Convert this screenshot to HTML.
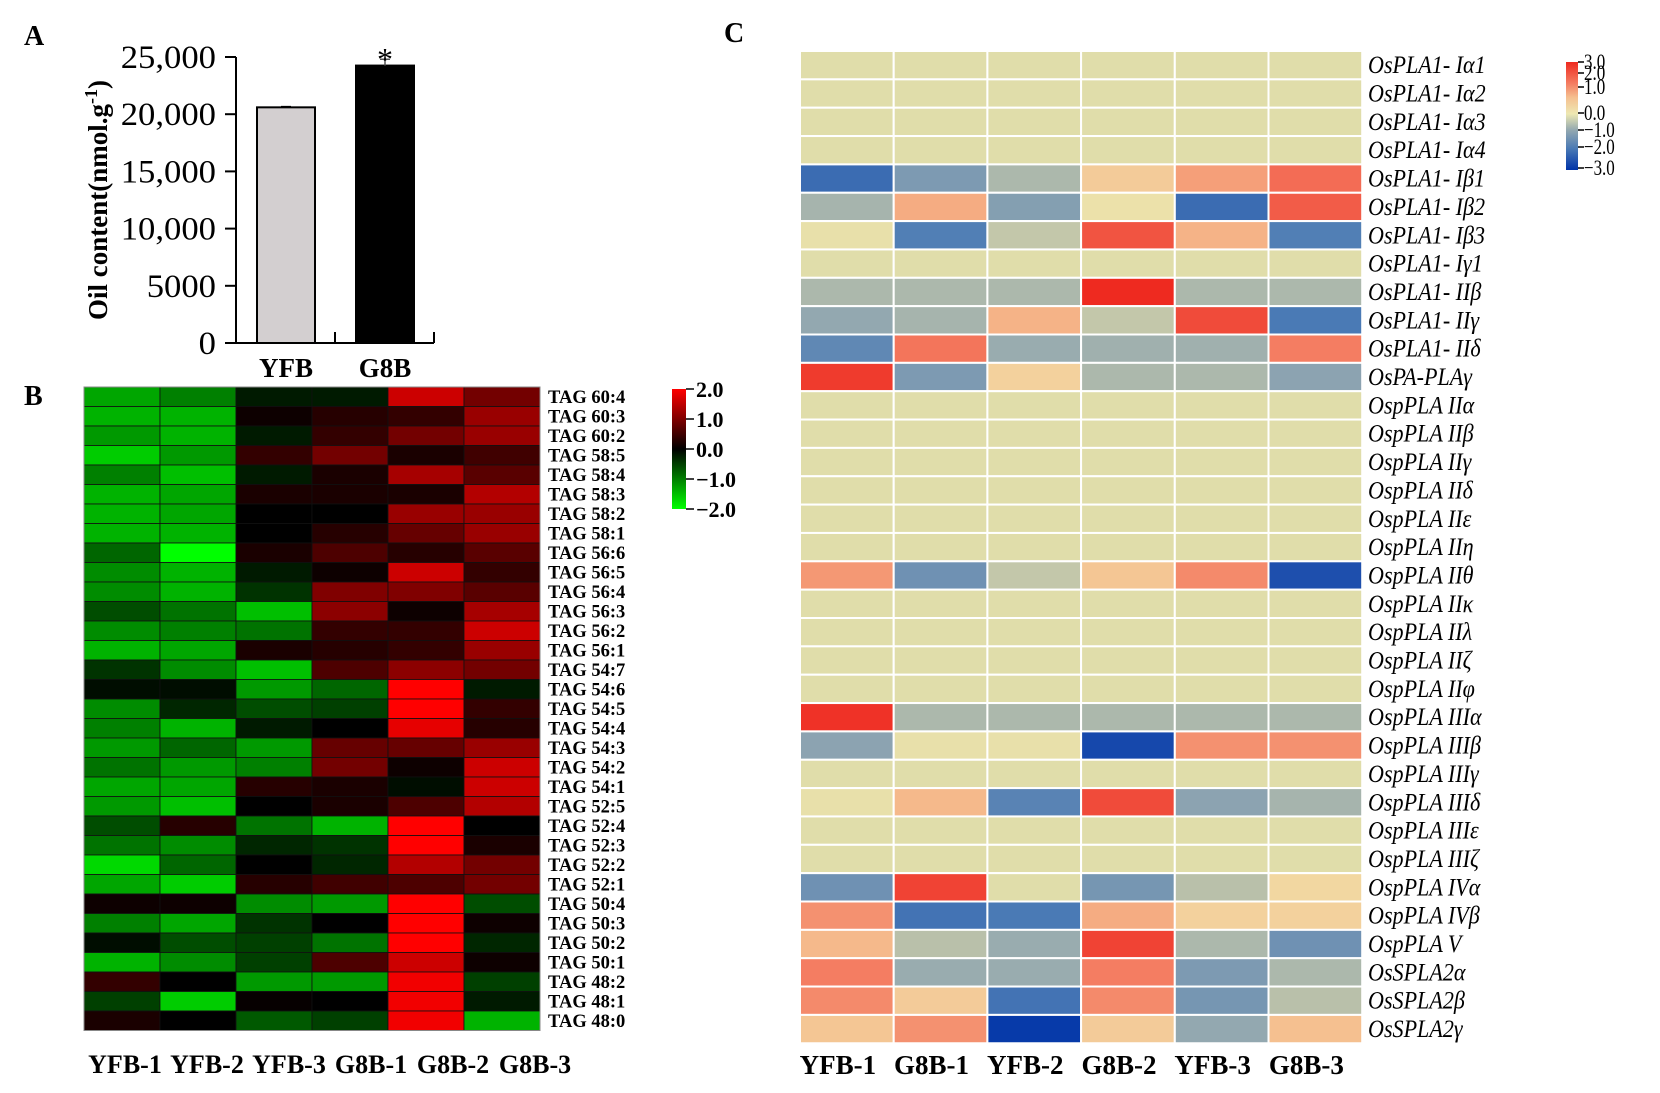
<!DOCTYPE html>
<html><head><meta charset="utf-8"><title>Oil content and heatmaps</title>
<style>
html,body{margin:0;padding:0;background:#fff;}
svg{display:block;font-family:"Liberation Serif",serif;}
</style></head>
<body>
<svg id="fig" width="1660" height="1093" viewBox="0 0 1660 1093" xmlns="http://www.w3.org/2000/svg">
<defs>
<linearGradient id="gB" x1="0" y1="0" x2="0" y2="1">
<stop offset="0" stop-color="#ff0000"/><stop offset="0.5" stop-color="#000000"/><stop offset="1" stop-color="#00ff00"/>
</linearGradient>
<linearGradient id="gC" x1="0" y1="0" x2="0" y2="1">
<stop offset="0" stop-color="#ee2a20"/><stop offset="0.2" stop-color="#f47d62"/><stop offset="0.33" stop-color="#f5c090"/><stop offset="0.48" stop-color="#eee8b2"/><stop offset="0.63" stop-color="#93a8b0"/><stop offset="0.8" stop-color="#4a7ab5"/><stop offset="1" stop-color="#0033a8"/>
</linearGradient>
</defs>
<g id="panelA"></g>
<g id="panelB"></g>
<g id="panelC"></g>
</svg>
<script>
// ---------- Panel A data ----------
const barCategories = ["YFB", "G8B"];
const barValues = [20600, 24250];
const barErrors = [60, 550];
const barTicks = [0, 5000, 10000, 15000, 20000, 25000];
const barTickLabels = ["0", "5000", "10,000", "15,000", "20,000", "25,000"];

// ---------- Panel B data ----------
const tagRows = ["TAG 60:4","TAG 60:3","TAG 60:2","TAG 58:5","TAG 58:4","TAG 58:3","TAG 58:2","TAG 58:1","TAG 56:6","TAG 56:5","TAG 56:4","TAG 56:3","TAG 56:2","TAG 56:1","TAG 54:7","TAG 54:6","TAG 54:5","TAG 54:4","TAG 54:3","TAG 54:2","TAG 54:1","TAG 52:5","TAG 52:4","TAG 52:3","TAG 52:2","TAG 52:1","TAG 50:4","TAG 50:3","TAG 50:2","TAG 50:1","TAG 48:2","TAG 48:1","TAG 48:0"];
const tagCols = ["YFB-1","YFB-2","YFB-3","G8B-1","G8B-2","G8B-3"];
const tagValues = [
[-1.3,-1.0,-0.2,-0.2,1.6,0.9],
[-1.4,-1.4,0.1,0.3,0.4,1.2],
[-1.2,-1.4,-0.2,0.4,0.9,1.2],
[-1.6,-1.2,0.4,0.9,0.2,0.5],
[-1.0,-1.5,-0.2,0.2,1.3,0.7],
[-1.4,-1.3,0.2,0.2,0.2,1.4],
[-1.4,-1.3,0.0,0.0,1.2,1.2],
[-1.4,-1.4,0.0,0.3,0.8,1.2],
[-0.8,-2.0,0.2,0.6,0.3,0.7],
[-1.1,-1.4,-0.2,0.1,1.6,0.4],
[-1.1,-1.4,-0.4,1.0,1.0,0.7],
[-0.6,-0.9,-1.5,1.1,0.1,1.3],
[-1.1,-1.0,-0.9,0.4,0.4,1.6],
[-1.4,-1.3,0.2,0.3,0.4,1.2],
[-0.4,-1.1,-1.5,0.6,1.1,0.9],
[-0.1,-0.1,-1.2,-0.8,2.0,-0.2],
[-1.1,-0.3,-0.6,-0.5,2.0,0.4],
[-1.0,-1.4,-0.2,0.0,1.8,0.3],
[-1.2,-0.8,-1.2,0.8,0.8,1.2],
[-0.9,-1.2,-1.0,0.9,0.1,1.6],
[-1.3,-1.3,0.3,0.2,-0.1,1.6],
[-1.2,-1.5,0.0,0.2,0.6,1.4],
[-0.6,0.3,-0.9,-1.4,2.0,0.0],
[-0.9,-1.1,-0.3,-0.4,2.0,0.2],
[-1.7,-0.8,0.0,-0.3,1.4,0.9],
[-1.3,-1.6,0.3,0.5,0.6,0.9],
[0.1,0.1,-1.1,-1.2,2.0,-0.6],
[-1.0,-1.3,-0.4,0.0,2.0,0.1],
[-0.1,-0.6,-0.5,-0.9,2.0,-0.3],
[-1.4,-1.1,-0.5,0.6,1.6,0.1],
[0.4,0.0,-1.2,-1.2,1.9,-0.5],
[-0.5,-1.6,0.05,0.0,1.9,-0.2],
[0.2,0.0,-0.7,-0.5,1.9,-1.4]
];
const tagLegendTicks = ["2.0","1.0","0.0","\u22121.0","\u22122.0"];

// ---------- Panel C data ----------
const plaRows = ["OsPLA1- I\u03b11","OsPLA1- I\u03b12","OsPLA1- I\u03b13","OsPLA1- I\u03b14","OsPLA1- I\u03b21","OsPLA1- I\u03b22","OsPLA1- I\u03b23","OsPLA1- I\u03b31","OsPLA1- II\u03b2","OsPLA1- II\u03b3","OsPLA1- II\u03b4","OsPA-PLA\u03b3","OspPLA II\u03b1","OspPLA II\u03b2","OspPLA II\u03b3","OspPLA II\u03b4","OspPLA II\u03b5","OspPLA II\u03b7","OspPLA II\u03b8","OspPLA II\u03ba","OspPLA II\u03bb","OspPLA II\u03b6","OspPLA II\u03c6","OspPLA III\u03b1","OspPLA III\u03b2","OspPLA III\u03b3","OspPLA III\u03b4","OspPLA III\u03b5","OspPLA III\u03b6","OspPLA IV\u03b1","OspPLA IV\u03b2","OspPLA V","OsSPLA2\u03b1","OsSPLA2\u03b2","OsSPLA2\u03b3"];
const plaCols = ["YFB-1","G8B-1","YFB-2","G8B-2","YFB-3","G8B-3"];
const plaValues = [
[0,0,0,0,0,0],[0,0,0,0,0,0],[0,0,0,0,0,0],[0,0,0,0,0,0],
[-2.2,-1.3,-0.6,0.8,1.5,2.2],
[-0.7,1.3,-1.2,0.3,-2.2,2.4],
[0.2,-1.9,-0.3,2.5,1.2,-1.9],
[0,0,0,0,0,0],
[-0.6,-0.6,-0.6,3.0,-0.6,-0.6],
[-1.0,-0.7,1.2,-0.3,2.6,-2.0],
[-1.7,2.1,-0.9,-0.8,-0.8,2.0],
[2.8,-1.3,0.7,-0.6,-0.6,-1.1],
[0,0,0,0,0,0],[0,0,0,0,0,0],[0,0,0,0,0,0],[0,0,0,0,0,0],[0,0,0,0,0,0],[0,0,0,0,0,0],
[1.6,-1.5,-0.3,0.9,1.8,-2.6],
[0,0,0,0,0,0],[0,0,0,0,0,0],[0,0,0,0,0,0],[0,0,0,0,0,0],
[2.9,-0.6,-0.6,-0.6,-0.6,-0.6],
[-1.1,0.2,0.2,-2.7,1.7,1.7],
[0,0,0,0,0,0],
[0.2,1.1,-1.8,2.6,-1.1,-0.7],
[0,0,0,0,0,0],[0,0,0,0,0,0],
[-1.5,2.7,0,-1.4,-0.4,0.6],
[1.7,-2.1,-2.0,1.3,0.7,0.7],
[1.1,-0.4,-0.9,2.7,-0.6,-1.5],
[2.0,-0.9,-0.9,2.0,-1.3,-0.6],
[1.8,0.8,-2.1,1.8,-1.4,-0.4],
[0.9,1.7,-2.9,0.8,-1.0,1.0]
];
const plaLegendTicks = ["3.0","2.0","1.0","0.0","\u22121.0","\u22122.0","\u22123.0"];

const NS = "http://www.w3.org/2000/svg";
function mk(parent, tag, attrs, text) {
  const e = document.createElementNS(NS, tag);
  for (const k in attrs) e.setAttribute(k, attrs[k]);
  if (text !== undefined) e.textContent = text;
  parent.appendChild(e);
  return e;
}

// ================= Panel A =================
(function(){
  const g = document.getElementById("panelA");
  const x0 = 236, yTop = 57, yBot = 343, vMax = 25000;
  const yScale = v => yBot - (v / vMax) * (yBot - yTop);
  const bandX = i => [257, 356][i];
  const bw = 58;
  let t = mk(g, "text", {x: 24, y: 45, "font-size": 28, "font-weight": "bold"}, "A");
  
  
  let ax = mk(g, "line", {x1: x0, y1: yTop, x2: x0, y2: yBot, stroke: "#000", "stroke-width": 2});
  
  
  let bx = mk(g, "path", {d: "M225 343 H434 M335 343 V332 M434 343 V332", stroke: "#000", "stroke-width": 2, fill: "none"});
  
  
  barTicks.forEach((v, i) => {
    const y = yScale(v);
    const tk = mk(g, "line", {x1: 225, y1: y, x2: x0, y2: y, stroke: "#000", "stroke-width": 2});
    
    
    const lb = mk(g, "text", {x: 216, y: y + 11, "font-size": 33, "text-anchor": "end", transform: `translate(216 0) scale(1.05 1) translate(-216 0)`}, barTickLabels[i]);
    
    
  });
  const yt = mk(g, "text", {x: 0, y: 0, "font-size": 27, "font-weight": "bold", "text-anchor": "middle", transform: "translate(107,200) rotate(-90)"});
  
  
  mk(yt, "tspan", {}, "Oil content(nmol.g");
  mk(yt, "tspan", {dy: -10, "font-size": 18}, "-1");
  mk(yt, "tspan", {dy: 10}, ")");
  barCategories.forEach((c, i) => {
    const y = yScale(barValues[i]);
    const r = mk(g, "rect", {x: bandX(i), y: y, width: bw, height: yBot - y, fill: i === 0 ? "#d3cfd0" : "#000", stroke: "#000", "stroke-width": 2});
    
    
    const ye = yScale(barValues[i] + barErrors[i]);
    const cx = bandX(i) + bw / 2;
    const eb = mk(g, "path", {d: `M${cx} ${y} V${ye} M${cx-5} ${ye} H${cx+5}`, stroke: i === 0 ? "#000" : "#555", "stroke-width": 1.5, fill: "none"});
    
    
    const xl = mk(g, "text", {x: cx, y: 377, "font-size": 27, "font-weight": "bold", "text-anchor": "middle"}, c);
    
    
  });
  const st = mk(g, "text", {x: 385, y: 70, "font-size": 32, "text-anchor": "middle"}, "*");
  
  
})();

// ================= Panel B =================
(function(){
  const g = document.getElementById("panelB");
  const x0 = 84, y0 = 387, cw = 76, rh = 19.5;
  const colX = i => x0 + i * cw;
  const rowY = i => y0 + i * rh;
  function color(v) {
    const a = Math.min(1, Math.abs(v) / 2);
    const c = Math.round(255 * a);
    return v >= 0 ? `rgb(${c},0,0)` : `rgb(0,${c},0)`;
  }
  let t = mk(g, "text", {x: 24, y: 405, "font-size": 28, "font-weight": "bold"}, "B");
  
  
  tagValues.forEach((row, r) => {
    row.forEach((v, c) => {
      const cell = mk(g, "rect", {x: colX(c), y: rowY(r), width: cw, height: rh, fill: color(v), stroke: "#111", "stroke-width": 0.8});
      
      
    });
    const lb = mk(g, "text", {x: 548, y: rowY(r) + rh / 2 + 6, "font-size": 18.5, "font-weight": "bold"}, tagRows[r]);
    
    
  });
  mk(g, "rect", {x: x0, y: y0, width: cw * 6, height: rh * tagRows.length, fill: "none", stroke: "#888", "stroke-width": 1});
  tagCols.forEach((c, i) => {
    const lb = mk(g, "text", {x: x0 + 41 + i * 82, y: 1073, "font-size": 26, "font-weight": "bold", "text-anchor": "middle"}, c);
    
    
  });
  const lg = mk(g, "rect", {x: 672, y: 389, width: 14, height: 120, fill: "url(#gB)"});
  
  
  tagLegendTicks.forEach((s, i) => {
    const y = 389 + i * 30;
    mk(g, "line", {x1: 686, y1: y, x2: 694, y2: y, stroke: "#000", "stroke-width": 1.5});
    const lb = mk(g, "text", {x: 696, y: y + 8, "font-size": 22, "font-weight": "bold"}, s);
    
    
  });
})();

// ================= Panel C =================
(function(){
  const g = document.getElementById("panelC");
  const x0 = 800, y0 = 51, cw = 93.7, rh = 28.35;
  const colX = i => x0 + i * cw;
  const rowY = i => y0 + i * rh;
  const stops = [[-3,[0,51,168]],[-2,[74,122,181]],[-1,[147,168,176]],[-0.4,[185,192,170]],[0,[224,221,170]],[0.4,[240,226,170]],[1,[245,192,144]],[2,[244,125,98]],[3,[238,42,32]]];
  function color(v) {
    v = Math.max(-3, Math.min(3, v));
    for (let i = 0; i < stops.length - 1; i++) {
      const [a, ca] = stops[i], [b, cb] = stops[i + 1];
      if (v >= a && v <= b) {
        const t = (v - a) / (b - a);
        const c = ca.map((x, k) => Math.round(x + (cb[k] - x) * t));
        return `rgb(${c[0]},${c[1]},${c[2]})`;
      }
    }
    return "#ccc";
  }
  let t = mk(g, "text", {x: 724, y: 42, "font-size": 28, "font-weight": "bold"}, "C");
  
  
  plaValues.forEach((row, r) => {
    row.forEach((v, c) => {
      const cell = mk(g, "rect", {x: colX(c), y: rowY(r), width: cw, height: rh, fill: color(v), stroke: "#fff", "stroke-width": 2});
      
      
    });
    const ty = rowY(r) + rh / 2 + 8;
    const lb = mk(g, "text", {x: 1368, y: ty, "font-size": 24, "font-style": "italic", transform: `translate(1368 ${ty}) scale(0.92 1.05) translate(-1368 ${-ty})`}, plaRows[r]);
    
    
  });
  plaCols.forEach((c, i) => {
    const lb = mk(g, "text", {x: colX(i) + cw / 2 - 9, y: 1074, "font-size": 27, "font-weight": "bold", "text-anchor": "middle"}, c);
    
    
  });
  const lg = mk(g, "rect", {x: 1566, y: 62, width: 12, height: 108, fill: "url(#gC)"});
  
  
  const tickYs = [62, 73, 87, 113, 130, 147, 168];
  plaLegendTicks.forEach((s, i) => {
    mk(g, "line", {x1: 1578, y1: tickYs[i], x2: 1584, y2: tickYs[i], stroke: "#000", "stroke-width": 1.5});
    const ty = tickYs[i] + 7;
    const lb = mk(g, "text", {x: 1584, y: ty, "font-size": 20, transform: `translate(1584 ${ty}) scale(0.85 1.1) translate(-1584 ${-ty})`}, s);
    
    
  });
})();
</script>
</body></html>
